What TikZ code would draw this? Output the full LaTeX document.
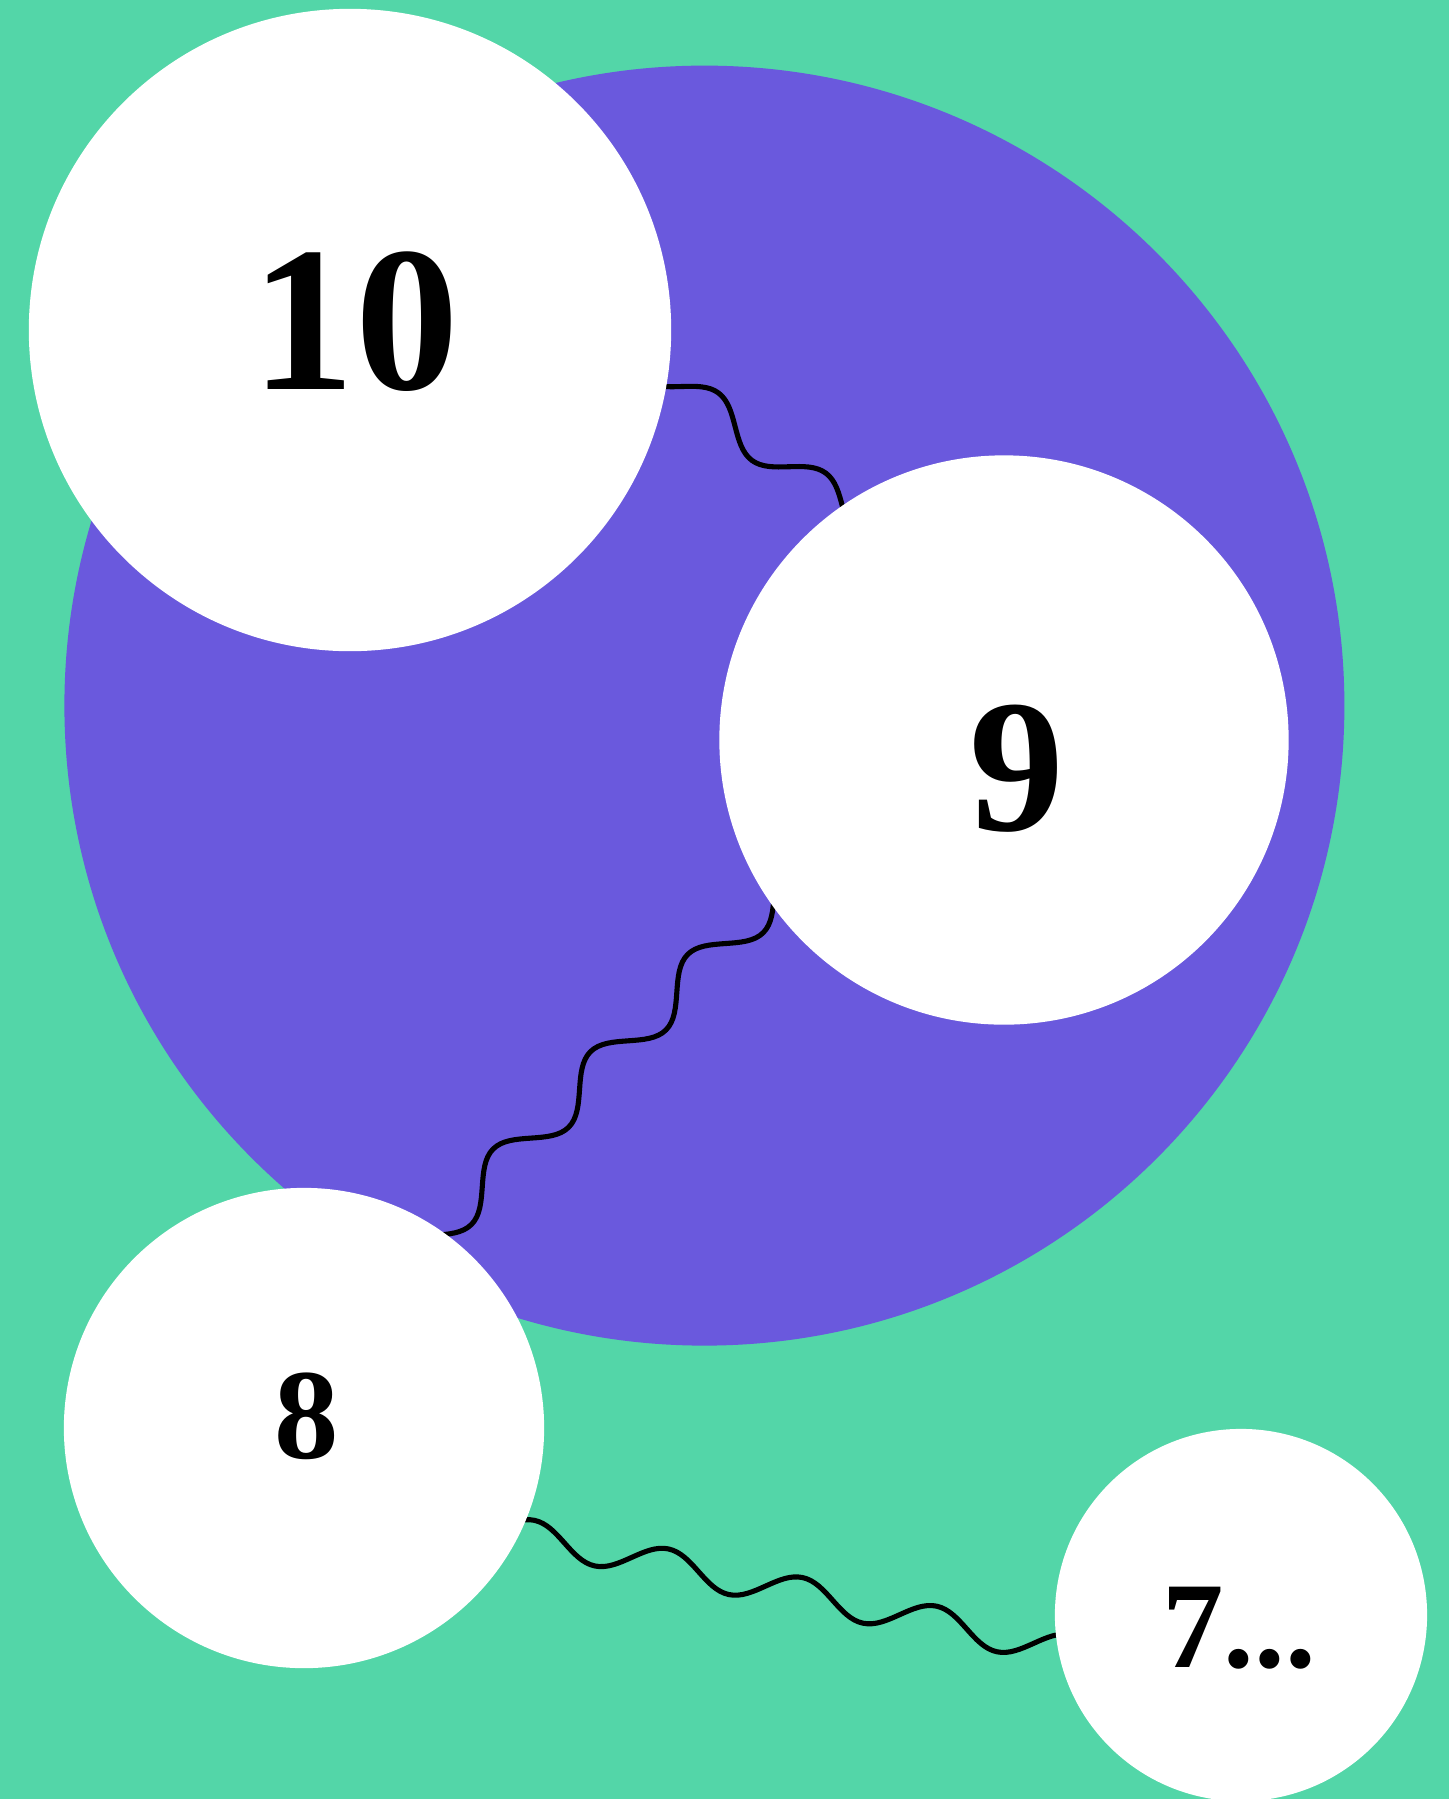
\documentclass[tikz,border=0pt]{standalone}
\usepackage{fontspec}
\setmainfont{Liberation Serif}
\usetikzlibrary{calc,backgrounds,decorations}
\definecolor{mint}{HTML}{53D6A8}
\definecolor{lilac}{HTML}{6A59DD}

% a plain sine wave, one period per segment length
\pgfdeclaredecoration{sinewave}{rise}{
  \state{rise}[switch if less than=+.25\pgfdecorationsegmentlength to final,
               width=+.25\pgfdecorationsegmentlength, next state=fall]{
    \pgfpathcurveto
      {\pgfqpoint{.08153\pgfdecorationsegmentlength}{.5123\pgfdecorationsegmentamplitude}}
      {\pgfqpoint{.15953\pgfdecorationsegmentlength}{\pgfdecorationsegmentamplitude}}
      {\pgfqpoint{.25\pgfdecorationsegmentlength}{\pgfdecorationsegmentamplitude}}
  }
  \state{fall}[switch if less than=+.25\pgfdecorationsegmentlength to final,
               width=+.25\pgfdecorationsegmentlength, next state=dip]{
    \pgfpathcurveto
      {\pgfqpoint{.09047\pgfdecorationsegmentlength}{\pgfdecorationsegmentamplitude}}
      {\pgfqpoint{.16847\pgfdecorationsegmentlength}{.5123\pgfdecorationsegmentamplitude}}
      {\pgfqpoint{.25\pgfdecorationsegmentlength}{0pt}}
  }
  \state{dip}[switch if less than=+.25\pgfdecorationsegmentlength to final,
              width=+.25\pgfdecorationsegmentlength, next state=climb]{
    \pgfpathcurveto
      {\pgfqpoint{.08153\pgfdecorationsegmentlength}{-.5123\pgfdecorationsegmentamplitude}}
      {\pgfqpoint{.15953\pgfdecorationsegmentlength}{-\pgfdecorationsegmentamplitude}}
      {\pgfqpoint{.25\pgfdecorationsegmentlength}{-\pgfdecorationsegmentamplitude}}
  }
  \state{climb}[switch if less than=+.25\pgfdecorationsegmentlength to final,
                width=+.25\pgfdecorationsegmentlength, next state=rise]{
    \pgfpathcurveto
      {\pgfqpoint{.09047\pgfdecorationsegmentlength}{-\pgfdecorationsegmentamplitude}}
      {\pgfqpoint{.16847\pgfdecorationsegmentlength}{-.5123\pgfdecorationsegmentamplitude}}
      {\pgfqpoint{.25\pgfdecorationsegmentlength}{0pt}}
  }
  \state{final}{
    \pgfpathlineto{\pgfpointdecoratedpathlast}
  }
}

\begin{document}
\begin{tikzpicture}[
  x=0.01cm, y=-0.01cm,
  ball/.style={
    circle,
    fill=white,
    inner sep=0pt
  },
  num/.style={
    inner sep=0pt,
    text=black
  },
  wave/.style 2 args={
    decorate,
    line width=1.45pt,
    line cap=round,
    decoration={sinewave, segment length=#1, amplitude=#2}
  }
]
\useasboundingbox (0,0) rectangle (1449,1799);

% the counting circles
\node[ball, minimum size=6.42cm] (n10) at (350,330) {};
\node[ball, minimum size=5.69cm] (n9) at (1004,740) {};
\node[ball, minimum size=4.80cm] (n8) at (304,1428) {};
\node[ball, minimum size=3.72cm] (n7) at (1241,1615) {};

\node[num, font=\bfseries\fontsize{58.9pt}{60pt}\selectfont] (t10) at ($(n10)+(5,-8)$) {10};
\node[num, font=\bfseries\fontsize{53.9pt}{55pt}\selectfont] (t9) at ($(n9)+(13,29)$) {9};
\node[num, font=\bfseries\fontsize{36.6pt}{38pt}\selectfont] (t8) at ($(n8)+(3,-11.5)$) {8};
\node[num, font=\bfseries\fontsize{34.9pt}{36pt}\selectfont] (t7) at ($(n7)+(-2,13.5)$) {7...};

% wave ends, hidden under the circles
\coordinate (w10) at ($(n10)+(224,-23.7)$);
\coordinate (w9a) at ($(n9)+(-0.4,-112.9)$);
\coordinate (w9b) at ($(n9)+(-132.6,57.6)$);
\coordinate (w8a) at ($(n8)+(-15.8,-47.2)$);
\coordinate (w8b) at ($(n8)+(59.5,72.2)$);
\coordinate (w7) at ($(n7)+(-73.5,56.8)$);

\begin{scope}[on background layer]
  \fill[mint] (0,0) rectangle (1449,1799);
  \fill[lilac] (704.4,705.6) circle (640);
  \draw[wave={1.34cm}{0.17cm}] (w10) -- (w9a);
  \draw[wave={1.375cm}{0.19cm}] (w9b) -- (w8a);
  \draw[wave={1.37cm}{0.16cm}] (w8b) -- (w7);
\end{scope}

\end{tikzpicture}
\end{document}
